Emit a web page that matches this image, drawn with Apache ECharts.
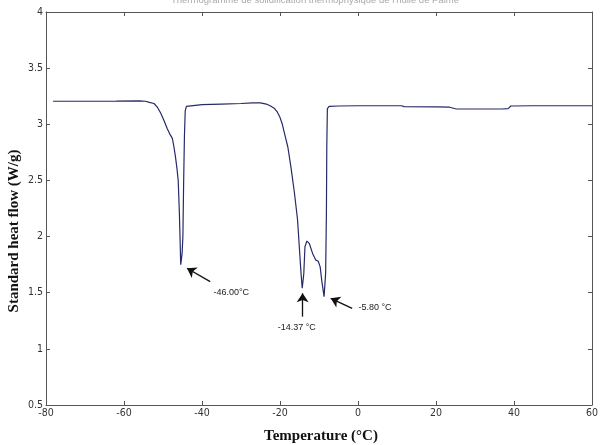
<!DOCTYPE html>
<html>
<head>
<meta charset="utf-8">
<script src="https://cdn.jsdelivr.net/npm/echarts@6/dist/echarts.min.js"></script>
<style>html,body{margin:0;padding:0;background:#fff;}#c{width:601px;height:445px;}</style>
</head>
<body>
<div id="c"></div>
<script>
// Temperature (°C)
const temperature = [-78.2,-70,-62,-56,-54.5,-53.5,-52.3,-51.4,-50.6,-49.7,-48.9,-48.2,-47.6,-47.2,-46.8,-46.4,-46.1,-45.8,-45.6,-45.5,-45.45,-45.1,-44.9,-44.7,-44.5,-44.3,-44.0,-43.5,-40,-35,-30,-27,-25,-23.5,-22.3,-21.4,-20.7,-20.1,-19.4,-18.85,-18.0,-17.2,-16.3,-15.5,-15.05,-14.6,-14.3,-13.9,-13.6,-13.1,-12.5,-11.65,-10.8,-10.2,-9.7,-9.3,-8.7,-8.3,-8.1,-8.0,-7.85,-7.4,-5,0,5,11.2,11.8,20,23.5,25,30,37,38.5,39.2,45,52,60];
// Standard heat flow (W/g)
const heatFlow = [3.205,3.205,3.206,3.208,3.205,3.195,3.185,3.15,3.10,3.03,2.96,2.91,2.875,2.80,2.71,2.60,2.50,2.21,1.95,1.80,1.75,1.85,2.00,2.5,2.9,3.12,3.16,3.17,3.175,3.18,3.185,3.19,3.19,3.18,3.16,3.14,3.11,3.07,3.00,2.92,2.80,2.62,2.39,2.15,1.91,1.67,1.54,1.67,1.91,1.96,1.94,1.85,1.79,1.78,1.73,1.61,1.465,1.67,2.21,2.80,3.14,3.16,3.163,3.165,3.165,3.165,3.157,3.155,3.152,3.138,3.136,3.136,3.14,3.163,3.165,3.165,3.165];
// x ticks
const xTicks = [-80,-60,-40,-20,0,20,40,60];
const yTicks = [0.5,1,1.5,2,2.5,3,3.5,4];
// annotations: arrow tail, arrow head, text anchor, text
const annoTexts = ['-46.00°C','-14.37 °C','-5.80 °C'];
const arrowTail = [[-37.9,1.599],[-14.2,1.287],[-1.5,1.361]];
const arrowHead = [[-43.85,1.718],[-14.2,1.495],[-7.0,1.45]];
const textAt = [[-32.5,1.505],[-15.7,1.19],[4.35,1.364]];

const chart = echarts.init(document.getElementById('c'));
const tickFont = {fontFamily:"'Liberation Sans Narrow','DejaVu Sans Condensed',Arial,sans-serif",fontSize:10.5,color:'#333'};
const axCommon = {
  axisLine:{show:true,onZero:false,lineStyle:{color:'#555',width:1}},
  axisTick:{show:true,inside:true,length:4,lineStyle:{color:'#555'}},
  splitLine:{show:false}
};
chart.setOption({
  animation:false,
  backgroundColor:'#fff',
  grid:{left:46,right:4,top:12,bottom:40,containLabel:false},
  xAxis:[
    Object.assign({type:'value',position:'bottom',min:xTicks[0],max:xTicks[xTicks.length-1],interval:20,
      axisLabel:Object.assign({margin:3},tickFont)},axCommon),
    Object.assign({type:'value',position:'top',min:xTicks[0],max:xTicks[xTicks.length-1],interval:20,
      axisLabel:{show:false}},axCommon)
  ],
  yAxis:[
    Object.assign({type:'value',position:'left',min:yTicks[0],max:yTicks[yTicks.length-1],interval:0.5,
      axisLabel:Object.assign({margin:3,formatter:v=>String(v)},tickFont)},axCommon),
    Object.assign({type:'value',position:'right',min:yTicks[0],max:yTicks[yTicks.length-1],interval:0.5,
      axisLabel:{show:false}},axCommon)
  ],
  series:[{
    type:'line',
    data:temperature.map((t,i)=>[t,heatFlow[i]]),
    symbol:'none',
    lineStyle:{color:'#262a66',width:1.2},
    markLine:{
      silent:true,
      symbol:['none','arrow'],
      symbolSize:9,
      label:{show:false},
      lineStyle:{color:'#111',width:1.3,type:'solid'},
      data:arrowTail.map((t,i)=>[{coord:t},{coord:arrowHead[i]}])
    },
    markPoint:{
      silent:true,
      symbol:'circle',
      symbolSize:0,
      label:{show:true,position:'inside',fontFamily:'Arial, Liberation Sans, sans-serif',fontSize:9,color:'#222',formatter:p=>p.name},
      data:textAt.map((c,i)=>({name:annoTexts[i],coord:c}))
    }
  }],
  graphic:[
    {type:'text',x:315,y:-5,style:{text:"Thermogramme de solidification thermophysique de l'huile de Palme",fontFamily:'Arial, sans-serif',fontSize:9.5,fill:'#aaa',align:'center'}},
    {type:'text',x:321,y:436,style:{text:'Temperature (°C)',fontFamily:"'Liberation Serif','Times New Roman',serif",fontWeight:'bold',fontSize:15,fill:'#111',align:'center',verticalAlign:'middle'}},
    {type:'text',x:14,y:231,rotation:Math.PI/2,style:{text:'Standard heat flow (W/g)',fontFamily:"'Liberation Serif','Times New Roman',serif",fontWeight:'bold',fontSize:15,fill:'#111',align:'center',verticalAlign:'middle'}}
  ]
});
</script>
</body>
</html>
